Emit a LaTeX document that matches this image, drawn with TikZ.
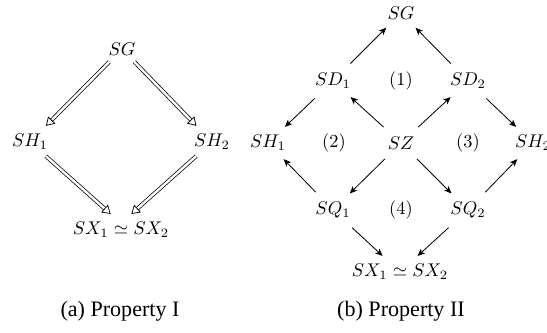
\documentclass[tikz,border=0pt]{standalone}
\usepackage[no-math]{fontspec}
\setmainfont{Liberation Serif}
\usetikzlibrary{arrows.meta}
\begin{document}
\begin{tikzpicture}[x=0.5435pt,y=-0.5435pt,
  m/.style={inner sep=3.33pt},
  dbl/.style={double, double distance=1.3pt, line width=0.4pt, -{Triangle[open,length=4.5pt,width=5.5pt]}, shorten >=1.5pt},
  sarr/.style={line width=0.45pt, -{Stealth[length=4pt,width=3.4pt,inset=1pt]}, shorten >=1.5pt, shorten <=2.5pt},
  captxt/.style={font=\rmfamily\fontsize{12}{14}\selectfont}]
\useasboundingbox (0,0) rectangle (547,333);
\clip (0,0) rectangle (547,333);
% (a)
\node[m] (sgA) at (122,49) {$SG$};
\node[m] (sh1A) at (30,142) {$SH_1$};
\node[m] (sh2A) at (212,142) {$SH_2$};
\node[m] (sxA) at (121,230) {$SX_1\simeq SX_2$};
\node[captxt] (capA) at (120,311) {(a) Property I};
\draw[dbl] (sgA) -- (sh1A);
\draw[dbl] (sgA) -- (sh2A);
\draw[dbl] (sh1A) -- ([xshift=-4.5pt]sxA.north);
\draw[dbl] (sh2A) -- ([xshift=4.5pt]sxA.north);
% (b)
\node[m] (sgB) at (401,13) {$SG$};
\node[m] (sd1) at (333,81) {$SD_1$};
\node[m] (n1) at (401,81) {$(1)$};
\node[m] (sd2) at (468,81) {$SD_2$};
\node[m] (sh1B) at (268,143) {$SH_1$};
\node[m] (n2) at (334,143) {$(2)$};
\node[m] (sz) at (401,143) {$SZ$};
\node[m] (n3) at (468,143) {$(3)$};
\node[m] (sh2B) at (533,143) {$SH_2$};
\node[m] (sq1) at (333,210) {$SQ_1$};
\node[m] (n4) at (401,210) {$(4)$};
\node[m] (sq2) at (468,210) {$SQ_2$};
\node[m] (sxB) at (400,272) {$SX_1\simeq SX_2$};
\node[captxt] (capB) at (401,311) {(b) Property II};
\draw[sarr] (sd1) -- (sgB);
\draw[sarr] (sd2) -- (sgB);
\draw[sarr] (sd1) -- (sh1B);
\draw[sarr] (sz) -- (sd1);
\draw[sarr] (sz) -- (sd2);
\draw[sarr] (sd2) -- (sh2B);
\draw[sarr] (sq1) -- (sh1B);
\draw[sarr] (sz) -- (sq1);
\draw[sarr] (sz) -- (sq2);
\draw[sarr] (sq2) -- (sh2B);
\draw[sarr] (sq1) -- (sxB);
\draw[sarr] (sq2) -- (sxB);
\end{tikzpicture}
\end{document}
